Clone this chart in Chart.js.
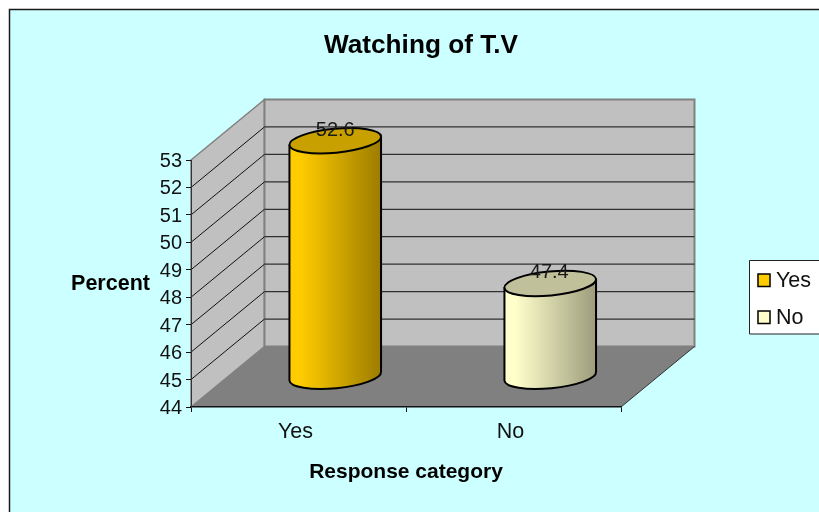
<!DOCTYPE html>
<html><head><meta charset="utf-8">
<style>html,body{margin:0;padding:0;background:#fff}canvas{display:block}</style>
<script src="https://cdn.jsdelivr.net/npm/chart.js@4"></script>
</head><body><canvas id="c" width="819" height="512"></canvas>
<script>
const categories = ['Yes', 'No'];
const percentValues = [52.6, 47.4];
const barColors = ['#FFCC00', '#FFFFCC'];
const darkColors = ['#9C7C00', '#9C9C7C'];
const topColors = ['#C8A000', '#C0C09A'];
const chartTitle = 'Watching of T.V';
const yTitle = 'Percent';
const xTitle = 'Response category';
const FONT = '"Liberation Sans", Arial, sans-serif';
const DX = 73.5, DY = -60.5;

const scene = {
  id: 'scene',
  beforeDraw(chart) {
    const { ctx, chartArea: a, scales: { y } } = chart;
    ctx.save();
    ctx.fillStyle = '#fff'; ctx.fillRect(0, 0, 819, 512);
    ctx.fillStyle = '#CCFFFF'; ctx.fillRect(9, 9, 810, 503);
    ctx.strokeStyle = '#1a1a1a'; ctx.lineWidth = 1.5;
    ctx.beginPath(); ctx.moveTo(9.5, 512); ctx.lineTo(9.5, 9.5); ctx.lineTo(819, 9.5); ctx.stroke();

    const L = a.left, R = a.right, T = a.top, B = a.bottom;
    const poly = (pts, fill, stroke, w) => {
      ctx.beginPath(); pts.forEach((p, i) => i ? ctx.lineTo(p[0], p[1]) : ctx.moveTo(p[0], p[1])); ctx.closePath();
      ctx.fillStyle = fill; ctx.fill();
      if (stroke) { ctx.strokeStyle = stroke; ctx.lineWidth = w; ctx.stroke(); }
    };
    poly([[L, T], [L + DX, T + DY], [L + DX, B + DY], [L, B]], '#C0C0C0', '#808080', 1.5);
    poly([[L + DX, T + DY], [R + DX, T + DY], [R + DX, B + DY], [L + DX, B + DY]], '#C0C0C0', '#808080', 2);
    poly([[L, B], [L + DX, B + DY], [R + DX, B + DY], [R, B]], '#808080', null, 0);
    ctx.strokeStyle = '#333'; ctx.lineWidth = 1;
    ctx.beginPath(); ctx.moveTo(R, B); ctx.lineTo(R + DX, B + DY); ctx.stroke();
    y.ticks.forEach(t => {
      if (t.value === y.min || t.value === y.max) return;
      const py = y.getPixelForValue(t.value);
      ctx.strokeStyle = '#111'; ctx.lineWidth = 1;
      ctx.beginPath(); ctx.moveTo(L, py); ctx.lineTo(L + DX, py + DY); ctx.stroke();
      ctx.strokeStyle = '#303030'; ctx.lineWidth = 1.3;
      ctx.beginPath(); ctx.moveTo(L + DX, py + DY); ctx.lineTo(R + DX, py + DY); ctx.stroke();
    });
    ctx.restore();
  },
  beforeDatasetDraw() { return false; },
  afterDatasetsDraw(chart) {
    const { ctx } = chart;
    const rot = -5.5 * Math.PI / 180, ry = 12;
    const meta = chart.getDatasetMeta(0);
    ctx.save();
    meta.data.forEach((el, i) => {
      const cx = el.x + DX / 2, rx = el.width / 2;
      const topY = el.y + DY / 2, baseY = el.base + DY / 2;
      const ox = rx * Math.cos(rot), oy = rx * Math.sin(rot);
      const g = ctx.createLinearGradient(cx - rx, 0, cx + rx, 0);
      g.addColorStop(0, barColors[i]);
      g.addColorStop(0.12, barColors[i]);
      g.addColorStop(1, darkColors[i]);
      ctx.beginPath();
      ctx.moveTo(cx - ox, topY - oy);
      ctx.lineTo(cx - ox, baseY - oy);
      ctx.ellipse(cx, baseY, rx, ry, rot, Math.PI, 0, true);
      ctx.lineTo(cx + ox, topY + oy);
      ctx.closePath();
      ctx.fillStyle = g; ctx.fill();
      ctx.strokeStyle = '#000'; ctx.lineWidth = 2; ctx.lineJoin = 'round'; ctx.stroke();
      ctx.beginPath();
      ctx.ellipse(cx, topY, rx, ry, rot, 0, Math.PI * 2);
      ctx.fillStyle = topColors[i]; ctx.fill();
      ctx.stroke();
    });
    ctx.font = '20px ' + FONT; ctx.fillStyle = '#1a1a1a';
    ctx.textAlign = 'center'; ctx.textBaseline = 'middle';
    meta.data.forEach((el, i) => {
      ctx.fillText(String(percentValues[i]), el.x + DX / 2 - (i ? 1 : 0), el.y + DY / 2 - 10.5);
    });
    ctx.restore();
  },
  afterDraw(chart) {
    const { ctx } = chart;
    ctx.save();
    ctx.textBaseline = 'middle'; ctx.fillStyle = '#000';
    ctx.textAlign = 'center';
    ctx.font = 'bold 26.2px ' + FONT; ctx.fillText(chartTitle, 421, 46);
    ctx.font = 'bold 21.5px ' + FONT; ctx.fillText(yTitle, 110.5, 284);
    // legend
    ctx.fillStyle = '#fff'; ctx.fillRect(749.5, 260.5, 70, 73.5);
    ctx.strokeStyle = '#222'; ctx.lineWidth = 1;
    ctx.beginPath(); ctx.moveTo(819, 260.5); ctx.lineTo(749.5, 260.5); ctx.lineTo(749.5, 334); ctx.lineTo(819, 334); ctx.stroke();
    const rowY = [280.5, 317.5];
    categories.forEach((c, i) => {
      ctx.fillStyle = barColors[i]; ctx.strokeStyle = '#000'; ctx.lineWidth = 1.5;
      ctx.fillRect(758, rowY[i] - 6.5, 12, 12.5); ctx.strokeRect(758, rowY[i] - 6.5, 12, 12.5);
      ctx.fillStyle = '#111'; ctx.textAlign = 'left'; ctx.font = '21.5px ' + FONT;
      ctx.fillText(c, 776, rowY[i] + 1);
    });
    ctx.restore();
  }
};

new Chart(document.getElementById('c'), {
  type: 'bar',
  data: {
    labels: categories,
    datasets: [{ label: yTitle, data: percentValues, base: 44, backgroundColor: barColors, categoryPercentage: 1, barPercentage: 0.428 }]
  },
  options: {
    responsive: false, animation: false, devicePixelRatio: 1,
    layout: { padding: { left: 0, right: 198, top: 160, bottom: 0 } },
    plugins: { legend: { display: false }, title: { display: false }, tooltip: { enabled: false } },
    scales: {
      x: {
        afterFit(s) { s.height = 105; },
        grid: { offset: true, drawOnChartArea: false, tickLength: 5, color: '#111' },
        border: { display: true, color: '#111', width: 1.5 },
        ticks: { color: '#111', padding: 7, labelOffset: -3, maxRotation: 0, font: { family: FONT, size: 21.5 } },
        title: { display: true, text: xTitle, color: '#000', padding: { top: 4, bottom: 27 }, font: { family: FONT, size: 21, weight: 'bold' } }
      },
      y: {
        min: 44, max: 53,
        afterFit(s) { s.width = 191; },
        grid: { drawOnChartArea: false, tickLength: 5, color: '#111' },
        border: { display: true, color: '#333', width: 1 },
        ticks: { stepSize: 1, color: '#111', padding: 4, labelOffset: 1.5, font: { family: FONT, size: 20 } }
      }
    }
  },
  plugins: [scene]
});
</script></body></html>
